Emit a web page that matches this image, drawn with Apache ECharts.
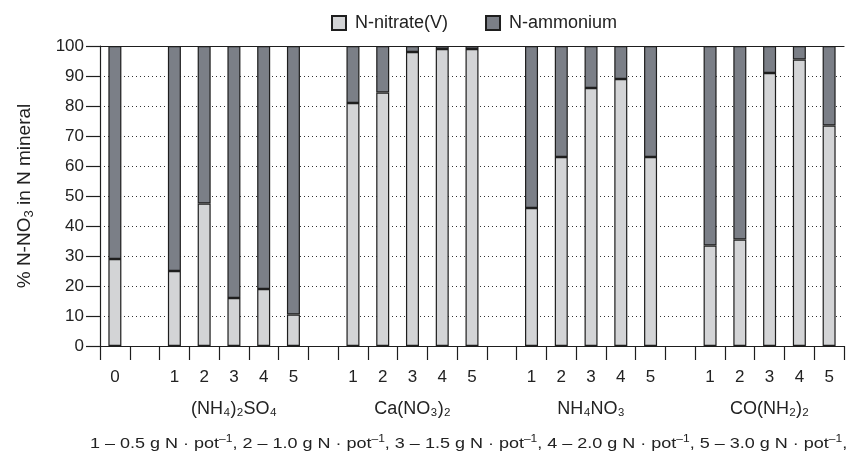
<!DOCTYPE html>
<html>
<head>
<meta charset="utf-8">
<script src="https://cdn.jsdelivr.net/npm/echarts@6/dist/echarts.min.js"></script>
<style>
  html, body { margin: 0; padding: 0; background: #fff; }
  #chart { width: 864px; height: 454px; }
</style>
</head>
<body>
<div id="chart"></div>
<script>
// categories: control, gap, 4 fertilizer groups of 5 doses with gaps between
const doseLabels = ['0', '', '1', '2', '3', '4', '5', '', '1', '2', '3', '4', '5', '', '1', '2', '3', '4', '5', '', '1', '2', '3', '4', '5']
const groupLabels = ['', '', '', '', '(NH₄)₂SO₄', '', '', '', '', '', 'Ca(NO₃)₂', '', '', '', '', '', 'NH₄NO₃', '', '', '', '', '', 'CO(NH₂)₂', '', '']

// % of mineral N, '-' = empty slot
const nitrate = [29, '-', 25, 47.5, 16, 19, 10.5, '-', 81, 84.5, 98, 99, 99, '-', 46, 63, 86, 89, 63, '-', 33.5, 35.5, 91, 95.5, 73.5]
const ammonium = [71, '-', 75, 52.5, 84, 81, 89.5, '-', 19, 15.5, 2, 1, 1, '-', 54, 37, 14, 11, 37, '-', 66.5, 64.5, 9, 4.5, 26.5]

const yTicks = { min: 0, max: 100, interval: 10 }

const lightColor = '#d3d4d6'
const darkColor = '#7b7f87'
const edgeColor = '#1e1e1e'
const textColor = '#222'
const fontFamily = 'Liberation Sans, Arial, sans-serif'

const myChart = echarts.init(document.getElementById('chart'))

myChart.setOption({
  animation: false,
  textStyle: { fontFamily: fontFamily, color: textColor },
  legend: {
    left: 326,
    top: 9,
    itemWidth: 14,
    itemHeight: 14,
    itemGap: 37,
    icon: 'rect',
    textStyle: { fontSize: 18, color: textColor, fontFamily: fontFamily, padding: [0, 0, 0, 4] },
    data: ['N-nitrate(V)', 'N-ammonium']
  },
  grid: {
    left: 100,
    right: 20,
    top: 46,
    bottom: 108
  },
  xAxis: [
    {
      type: 'category',
      data: doseLabels,
      axisLine: { lineStyle: { color: edgeColor, width: 1.2 } },
      axisTick: { show: true, interval: 0, length: 14, lineStyle: { color: edgeColor, width: 1.2 } },
      axisLabel: { interval: 0, margin: 23, fontSize: 17, color: textColor, fontFamily: fontFamily }
    },
    {
      // group names under the dose numbers
      type: 'category',
      position: 'bottom',
      data: groupLabels,
      axisLine: { show: false },
      axisTick: { show: false },
      axisLabel: { interval: 0, margin: 54, fontSize: 18, color: textColor, fontFamily: fontFamily }
    },
    {
      // solid line along 100 %
      type: 'category',
      position: 'top',
      data: doseLabels,
      axisLine: { show: true, lineStyle: { color: edgeColor, width: 1.2 } },
      axisTick: { show: false },
      axisLabel: { show: false }
    }
  ],
  yAxis: {
    type: 'value',
    min: yTicks.min,
    max: yTicks.max,
    interval: yTicks.interval,
    name: '{t|% N-NO}{s|3}{t| in N mineral}',
    nameLocation: 'middle',
    nameGap: 64,
    nameTextStyle: {
      rich: {
        t: { fontSize: 19, color: textColor, fontFamily: fontFamily, lineHeight: 22 },
        s: { fontSize: 13, color: textColor, fontFamily: fontFamily, verticalAlign: 'bottom', lineHeight: 15 }
      }
    },
    axisLine: { show: true, lineStyle: { color: edgeColor, width: 1.2 } },
    axisTick: { show: true, length: 14, lineStyle: { color: edgeColor, width: 1.2 } },
    axisLabel: { margin: 16, fontSize: 17, color: textColor, fontFamily: fontFamily },
    splitLine: {
      show: true,
      lineStyle: { color: '#333', width: 1, type: [1, 3] }
    }
  },
  series: [
    {
      name: 'N-nitrate(V)',
      type: 'bar',
      stack: 'n',
      barWidth: 13,
      data: nitrate,
      itemStyle: { color: lightColor, borderColor: edgeColor, borderWidth: 1.2 }
    },
    {
      name: 'N-ammonium',
      type: 'bar',
      stack: 'n',
      barWidth: 13,
      data: ammonium,
      itemStyle: { color: darkColor, borderColor: edgeColor, borderWidth: 1.2 }
    }
  ],
  graphic: [
    {
      // dose key, drawn slightly stretched like the original
      type: 'text',
      x: 90,
      y: 434,
      scaleX: 1.2,
      style: {
        text: '{t|1 – 0.5 g N · pot}{p|–1}{t|, 2 – 1.0 g N · pot}{p|–1}{t|, 3 – 1.5 g N · pot}{p|–1}{t|, 4 – 2.0 g N · pot}{p|–1}{t|, 5 – 3.0 g N · pot}{p|–1}{t|,}',
        rich: {
          t: { fontSize: 15, fill: textColor, fontFamily: fontFamily, lineHeight: 20 },
          p: { fontSize: 10, fill: textColor, fontFamily: fontFamily, verticalAlign: 'top', lineHeight: 12 }
        }
      }
    }
  ]
})
</script>
</body>
</html>
